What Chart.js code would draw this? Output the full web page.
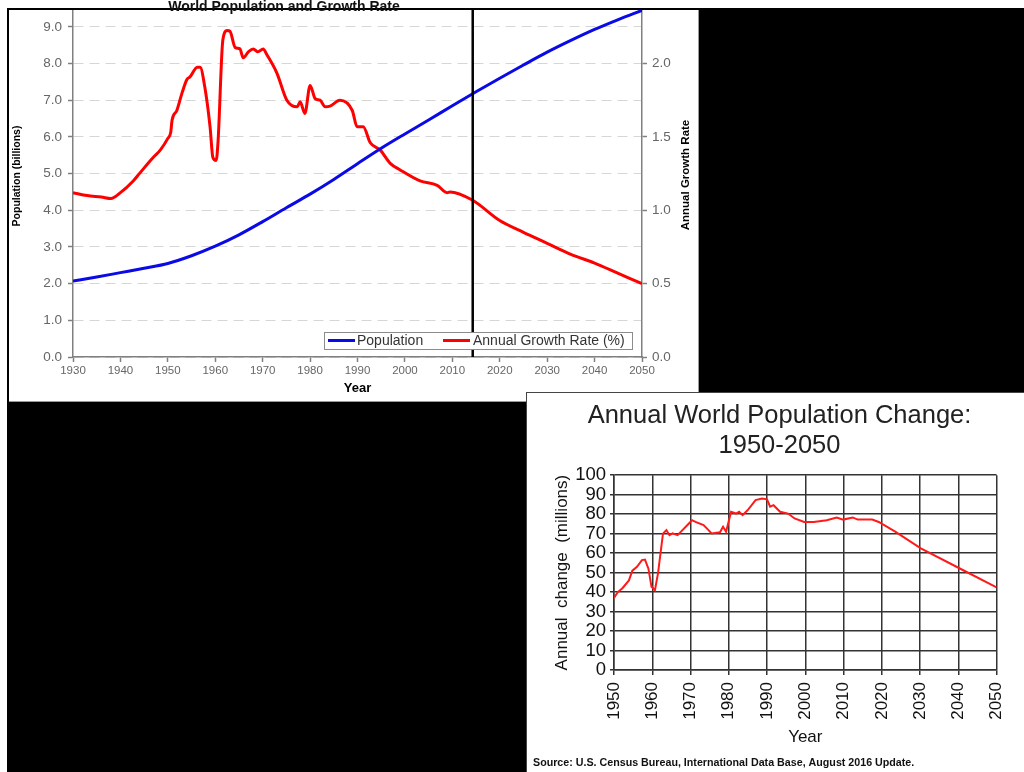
<!DOCTYPE html>
<html>
<head>
<meta charset="utf-8">
<script src="https://cdn.jsdelivr.net/npm/chart.js@4.4.0/dist/chart.umd.min.js"></script>
<style>
  html, body { margin: 0; padding: 0; }
  body { width: 1024px; height: 772px; background: #fff; position: relative; overflow: hidden; font-family: "Liberation Sans", Arial, sans-serif; }
  #backdrop { position: absolute; left: 7px; top: 8px; width: 1017px; height: 764px; background: #000; }
  #topPanel { position: absolute; left: 9px; top: 10px; width: 689px; height: 391px; background: #fff; border-right: 1px solid #9a9a9a; border-bottom: 1px solid #9a9a9a; }
  #bottomPanel { position: absolute; left: 526px; top: 392px; width: 497px; height: 379px; background: #fff; border-left: 1px solid #444; border-top: 1px solid #444; }
  #topTitle { position: absolute; left: 84px; top: -1px; width: 400px; text-align: center; font: bold 14px "Liberation Sans", Arial, sans-serif; line-height: 14px; color: #111; }
  canvas { display: block; }
</style>
</head>
<body>
<div id="backdrop"></div>
<div id="topPanel"><canvas id="popChart" width="689" height="391"></canvas></div>
<div id="bottomPanel"><canvas id="changeChart" width="497" height="379"></canvas></div>
<div id="topTitle">World Population and Growth Rate</div>

<script>
// World population (billions), read every 5 years
var popYears = [1930, 1935, 1940, 1945, 1950, 1955, 1960, 1965, 1970, 1975, 1980, 1985, 1990,
    1995, 2000, 2005, 2010, 2015, 2020, 2025, 2030, 2035, 2040, 2045, 2050];
var popValues = [2.07, 2.18, 2.30, 2.42, 2.55, 2.76, 3.02, 3.33, 3.69, 4.07, 4.44, 4.84, 5.27,
    5.69, 6.08, 6.46, 6.85, 7.23, 7.60, 7.96, 8.31, 8.63, 8.93, 9.20, 9.45];

// Annual growth rate (%)
var growthYears = [1930, 1933, 1936, 1938, 1940, 1942.7, 1944, 1946.9, 1948.4, 1950, 1950.6, 1950.9,
    1951.9, 1953, 1954, 1954.7, 1956.2, 1956.8, 1957.8, 1958.9, 1959.5, 1960.2, 1960.6, 1961.6,
    1962.5, 1963.1, 1964.2, 1965.2, 1965.9, 1967, 1968, 1969, 1970.1, 1970.9, 1973, 1975.1,
    1977.3, 1977.9, 1978.9, 1980, 1981.1, 1982.1, 1983.2, 1984.2, 1986.3, 1988.9, 1989.9,
    1991.2, 1992.7, 1994.8, 1996.9, 1999, 2003.2, 2006.8, 2008.9, 2009.5, 2014.2, 2020, 2025,
    2030, 2035, 2040, 2045, 2050];
var growthRates = [1.12, 1.10, 1.09, 1.08, 1.12, 1.20, 1.25, 1.36, 1.41, 1.49, 1.53, 1.615,
    1.68, 1.80, 1.89, 1.91, 1.975, 1.975, 1.84, 1.57, 1.36, 1.34, 1.475, 2.16,
    2.225, 2.22, 2.11, 2.10, 2.04, 2.08, 2.10, 2.08, 2.10, 2.06, 1.935, 1.75,
    1.705, 1.74, 1.66, 1.85, 1.76, 1.75, 1.705, 1.71, 1.75, 1.68, 1.57,
    1.57, 1.46, 1.41, 1.32, 1.275, 1.20, 1.17, 1.12, 1.125, 1.07, 0.93, 0.85,
    0.775, 0.70, 0.64, 0.57, 0.50];

var markerYear = 2014.3;   // vertical "today" line
var popTicksMax = 9;
var rateTicksMax = 2;

// Annual world population change (millions)
var changeYears = [1950, 1951, 1952.2, 1953.9, 1954.8, 1956, 1957.3, 1958.1, 1959, 1959.8, 1960.7,
    1961.5, 1962.8, 1963.7, 1964.5, 1965.3, 1966.6, 1967.9, 1969.2, 1970.4, 1971.3, 1973.4,
    1974.7, 1975.5, 1977.7, 1978.5, 1979.3, 1980.6, 1981.9, 1982.7, 1983.6, 1984.9, 1987,
    1988.7, 1990, 1990.8, 1991.7, 1993.4, 1995.5, 1997.2, 1999.7, 2002.2, 2005.6, 2008.2,
    2009.9, 2012.4, 2013.7, 2017.5, 2019.2, 2023.5, 2030.2, 2040.4, 2050];
var changeValues = [37, 40, 42, 46, 51, 53, 56.4, 56.7, 52, 42.7, 41,
    49.6, 70, 71.8, 69.2, 70.1, 69.2, 71.8, 74.4, 76.9, 76, 74.4,
    71.8, 70.1, 70.7, 73.5, 71, 81.2, 80.3, 81.2, 79.5, 82, 87.2,
    88, 87.6, 83.8, 84.6, 81.2, 80.3, 77.8, 76, 76, 76.9, 78.3,
    77.2, 78.3, 77.2, 77.2, 76, 71, 62.4, 52.1, 42.4];

function toPoints(xs, ys) {
    return xs.map(function (x, i) { return {x: x, y: ys[i]}; });
}

function drawRotated(c, text, x, y, font) {
    c.save();
    c.translate(x, y);
    c.rotate(-Math.PI / 2);
    c.font = font;
    c.fillStyle = '#000';
    c.textAlign = 'center';
    c.textBaseline = 'middle';
    c.fillText(text, 0, 0);
    c.restore();
}

// legend box and axis titles of the top chart
var topExtras = {
    id: 'topExtras',
    afterDraw: function (chart) {
        var c = chart.ctx;
        var ds = chart.data.datasets;
        c.save();
        c.fillStyle = '#fff';
        c.fillRect(315, 322, 308, 17);
        c.strokeStyle = '#8c8c8c';
        c.lineWidth = 1;
        c.strokeRect(315.5, 322.5, 308, 17);
        c.lineWidth = 3;
        c.strokeStyle = ds[1].borderColor;
        c.beginPath(); c.moveTo(319, 330.5); c.lineTo(346, 330.5); c.stroke();
        c.strokeStyle = ds[2].borderColor;
        c.beginPath(); c.moveTo(434, 330.5); c.lineTo(461, 330.5); c.stroke();
        c.font = '14px "Liberation Sans", Arial, sans-serif';
        c.fillStyle = '#333';
        c.textBaseline = 'middle';
        c.fillText(ds[1].label, 348, 331);
        c.fillText(ds[2].label, 464, 331);
        c.restore();
        drawRotated(c, 'Population (billions)', 8, 166, 'bold 10.5px "Liberation Sans", Arial, sans-serif');
        drawRotated(c, 'Annual Growth Rate', 677, 165, 'bold 11.5px "Liberation Sans", Arial, sans-serif');
    }
};

var sourceNote = {
    id: 'sourceNote',
    afterDraw: function (chart) {
        var c = chart.ctx;
        c.save();
        c.font = 'bold 10.7px "Liberation Sans", Arial, sans-serif';
        c.fillStyle = '#111';
        c.textBaseline = 'middle';
        c.fillText('Source: U.S. Census Bureau, International Data Base, August 2016 Update.', 6, 370);
        c.restore();
    }
};

var grayTick = {family: '"Liberation Sans", Arial, sans-serif', size: 13.5};

// Top chart - population and growth rate
var ctx1 = document.getElementById('popChart').getContext('2d');
var popChart = new Chart(ctx1, {
    type: 'line',
    data: {
        datasets: [{
            label: 'marker',
            data: [{x: markerYear, y: 0}, {x: markerYear, y: 9.46}],
            borderColor: '#000',
            borderWidth: 2.5,
            pointRadius: 0,
            yAxisID: 'y'
        }, {
            label: 'Population',
            data: toPoints(popYears, popValues),
            borderColor: '#0a0ae6',
            borderWidth: 3,
            pointRadius: 0,
            cubicInterpolationMode: 'monotone',
            yAxisID: 'y'
        }, {
            label: 'Annual Growth Rate (%)',
            data: toPoints(growthYears, growthRates),
            borderColor: '#ff0000',
            borderWidth: 3,
            pointRadius: 0,
            cubicInterpolationMode: 'monotone',
            yAxisID: 'y1'
        }]
    },
    options: {
        responsive: false,
        animation: false,
        layout: {padding: 0},
        plugins: {legend: {display: false}, tooltip: {enabled: false}},
        scales: {
            x: {
                type: 'linear',
                min: 1930,
                max: 2050,
                ticks: {
                    stepSize: 10,
                    autoSkip: false,
                    color: '#666',
                    padding: 2,
                    maxRotation: 0,
                    font: {family: grayTick.family, size: 11.5},
                    callback: function (v) { return String(v); }
                },
                grid: {drawOnChartArea: false, tickLength: 5, tickColor: '#808080', tickWidth: 1.5},
                border: {color: '#808080', width: 1.5},
                title: {display: true, text: 'Year', color: '#000', padding: {top: 0, bottom: 5},
                    font: {family: grayTick.family, size: 13, weight: 'bold'}},
                afterFit: function (s) { s.height = 44; }
            },
            y: {
                position: 'left',
                min: 0,
                max: 9.46,
                ticks: {
                    stepSize: 1,
                    autoSkip: false,
                    color: '#666',
                    padding: 6,
                    font: grayTick,
                    callback: function (v) { return v.toFixed(1); }
                },
                afterBuildTicks: function (s) {
                    s.ticks = s.ticks.filter(function (t) { return t.value <= popTicksMax; });
                },
                grid: {color: '#d6d6d6', lineWidth: 1, tickLength: 5, tickColor: '#808080',
                    tickWidth: 1.5, tickBorderDash: []},
                border: {color: '#808080', width: 1.5, dash: [10, 6]},
                afterFit: function (s) { s.width = 64; s.paddingTop = 0; s.paddingBottom = 0; }
            },
            y1: {
                position: 'right',
                min: 0,
                max: 2.365,
                ticks: {
                    stepSize: 0.5,
                    autoSkip: false,
                    color: '#666',
                    padding: 5,
                    font: grayTick,
                    callback: function (v) { return v.toFixed(1); }
                },
                afterBuildTicks: function (s) {
                    s.ticks = s.ticks.filter(function (t) { return t.value <= rateTicksMax; });
                },
                grid: {drawOnChartArea: false, tickLength: 5, tickColor: '#808080', tickWidth: 1.5},
                border: {color: '#808080', width: 1.5},
                afterFit: function (s) { s.width = 56; s.paddingTop = 0; s.paddingBottom = 0; }
            }
        }
    },
    plugins: [topExtras]
});

// Bottom chart - annual population change
var ctx2 = document.getElementById('changeChart').getContext('2d');
var changeChart = new Chart(ctx2, {
    type: 'line',
    data: {
        datasets: [{
            label: 'Annual change',
            data: toPoints(changeYears, changeValues),
            borderColor: '#ff1a1a',
            borderWidth: 2,
            pointRadius: 0,
            tension: 0
        }]
    },
    options: {
        responsive: false,
        animation: false,
        layout: {padding: {left: 25, right: 17, top: 0, bottom: 0}},
        plugins: {
            legend: {display: false},
            tooltip: {enabled: false},
            title: {
                display: true,
                text: ['Annual World Population Change:', '1950-2050'],
                color: '#222',
                padding: {top: 8, bottom: 14},
                font: {family: '"Liberation Sans", Arial, sans-serif', size: 25.5, weight: 'normal', lineHeight: 1.18}
            }
        },
        scales: {
            x: {
                type: 'linear',
                min: 1950,
                max: 2050,
                ticks: {
                    stepSize: 10,
                    autoSkip: false,
                    color: '#111',
                    padding: 7,
                    minRotation: 90,
                    maxRotation: 90,
                    font: {family: '"Liberation Sans", Arial, sans-serif', size: 17},
                    callback: function (v) { return String(v); }
                },
                grid: {color: '#333', lineWidth: 1.5, tickLength: 5},
                border: {color: '#333', width: 1.5},
                title: {display: true, text: 'Year', color: '#111', padding: {top: 0, bottom: 24},
                    font: {family: '"Liberation Sans", Arial, sans-serif', size: 17}},
                afterFit: function (s) { s.height = 102; }
            },
            y: {
                min: 0,
                max: 100,
                ticks: {
                    stepSize: 10,
                    autoSkip: false,
                    color: '#111',
                    padding: 4,
                    font: {family: '"Liberation Sans", Arial, sans-serif', size: 18.5}
                },
                grid: {color: '#333', lineWidth: 1.5, tickLength: 4},
                border: {color: '#333', width: 1.5},
                title: {display: true, text: 'Annual  change  (millions)', color: '#111', padding: {top: 0, bottom: 0},
                    font: {family: '"Liberation Sans", Arial, sans-serif', size: 17}},
                afterFit: function (s) { s.width = 62; }
            }
        }
    },
    plugins: [sourceNote]
});
</script>
</body>
</html>
